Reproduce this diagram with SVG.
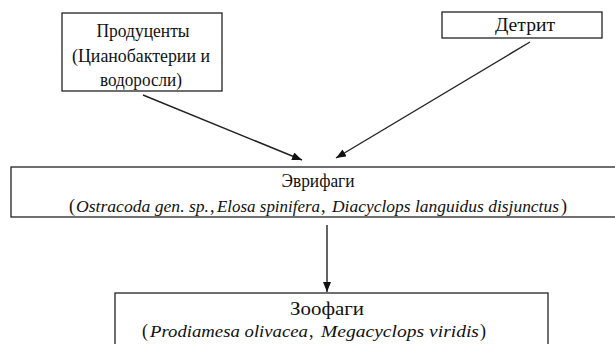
<svg xmlns="http://www.w3.org/2000/svg" width="615" height="344" viewBox="0 0 615 344">
<style>
.box{fill:#fff;stroke:#222;stroke-width:1.3}
text{font-family:"Liberation Serif","DejaVu Serif",serif;font-size:18px;fill:#111}
.c{text-anchor:middle}
.i{font-style:italic;font-size:16.8px}
.edge{stroke:#222;stroke-width:1.4;fill:none;marker-end:url(#ah)}
</style>
<defs>
<marker id="ah" viewBox="0 0 10 8" refX="10" refY="4" markerWidth="10" markerHeight="8" markerUnits="userSpaceOnUse" orient="auto">
<path d="M0,0 L10,4 L0,8 Z" fill="#111"/>
</marker>
</defs>
<rect width="615" height="344" fill="#fff"/>
<g id="producers">
<rect class="box" x="62" y="13" width="160" height="78"/>
<text class="c" x="143" y="37" textLength="93" lengthAdjust="spacingAndGlyphs">Продуценты</text>
<text class="c" x="141" y="62" textLength="138" lengthAdjust="spacingAndGlyphs">(Цианобактерии и</text>
<text class="c" x="141" y="86" textLength="82" lengthAdjust="spacingAndGlyphs">водоросли)</text>
</g>
<g id="detritus">
<rect class="box" x="442" y="12" width="160" height="26"/>
<text class="c" x="525" y="31" textLength="60" lengthAdjust="spacingAndGlyphs">Детрит</text>
</g>
<g id="euryphages">
<rect class="box" x="11" y="167" width="606" height="50"/>
<text class="c" x="318" y="187" textLength="73" lengthAdjust="spacingAndGlyphs">Эврифаги</text>
<text x="69" y="212">(</text>
<text class="i" x="76" y="212" textLength="133" lengthAdjust="spacingAndGlyphs">Ostracoda gen. sp.</text>
<text x="210" y="212">,</text>
<text class="i" x="217" y="212" textLength="103" lengthAdjust="spacingAndGlyphs">Elosa spinifera</text>
<text x="321" y="212">,</text>
<text class="i" x="332" y="212" textLength="227" lengthAdjust="spacingAndGlyphs">Diacyclops languidus disjunctus</text>
<text x="561" y="212">)</text>
</g>
<g id="zoophages">
<rect class="box" x="115" y="293" width="433" height="52"/>
<text class="c" x="327" y="315" textLength="74" lengthAdjust="spacingAndGlyphs">Зоофаги</text>
<text x="142" y="337">(</text>
<text class="i" x="150" y="337" textLength="158" lengthAdjust="spacingAndGlyphs">Prodiamesa olivacea</text>
<text x="309" y="337">,</text>
<text class="i" x="321" y="337" textLength="158" lengthAdjust="spacingAndGlyphs">Megacyclops viridis</text>
<text x="480" y="337">)</text>
</g>
<g id="connectors">
<line class="edge" x1="143" y1="95" x2="302" y2="160"/>
<line class="edge" x1="530" y1="42" x2="336" y2="158"/>
<line class="edge" x1="327" y1="225" x2="327" y2="292"/>
</g>
</svg>
